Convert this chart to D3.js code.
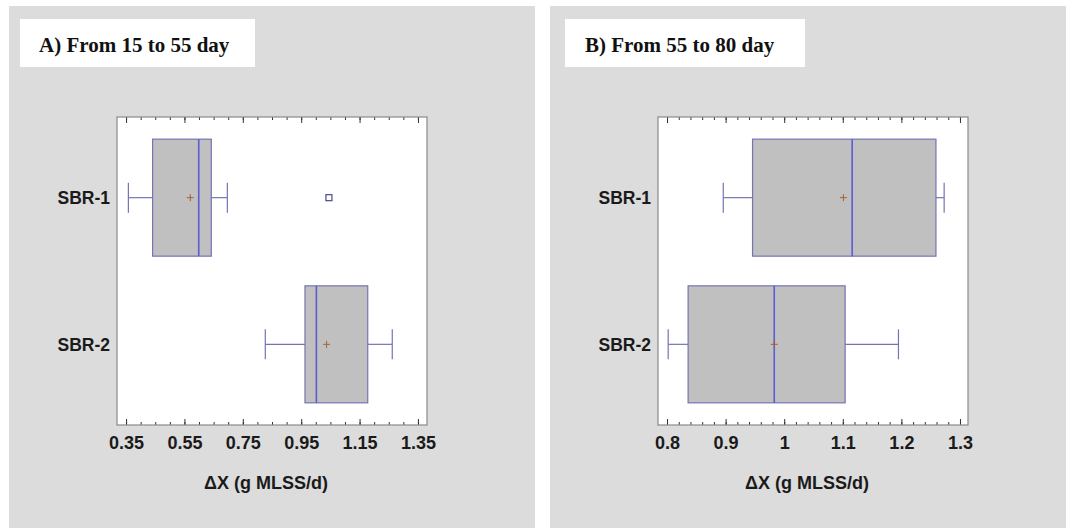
<!DOCTYPE html>
<html>
<head>
<meta charset="utf-8">
<script src="https://cdn.jsdelivr.net/npm/d3@7/dist/d3.min.js"></script>
<style>
  html, body { margin: 0; padding: 0; background: #ffffff; }
  svg { display: block; }
</style>
</head>
<body>
<svg id="chart" width="1066" height="528"></svg>
<script>
// Sample groups
const categories = ["SBR-1", "SBR-2"];

// Panel A: days 15–55
const titleA = "A) From 15 to 55 day";
const whiskerLowA  = [0.358, 0.827];
const q1A          = [0.441, 0.963];
const medianA      = [0.599, 1.002];
const q3A          = [0.642, 1.178];
const whiskerHighA = [0.697, 1.262];
const meanA        = [0.570, 1.037];
const outliersA    = [[1.045], []];
const domainA      = [0.319, 1.381];
const majorTicksA  = [0.35, 0.55, 0.75, 0.95, 1.15, 1.35];
const tickLabelsA  = ["0.35", "0.55", "0.75", "0.95", "1.15", "1.35"];
const minorStepA   = 0.05;

// Panel B: days 55–80
const titleB = "B) From 55 to 80 day";
const whiskerLowB  = [0.896, 0.802];
const q1B          = [0.946, 0.836];
const medianB      = [1.116, 0.983];
const q3B          = [1.259, 1.104];
const whiskerHighB = [1.273, 1.195];
const meanB        = [1.101, 0.983];
const outliersB    = [[], []];
const domainB      = [0.7846, 1.3137];
const majorTicksB  = [0.8, 0.9, 1.0, 1.1, 1.2, 1.3];
const tickLabelsB  = ["0.8", "0.9", "1", "1.1", "1.2", "1.3"];
const minorStepB   = 0.02;

const axisTitle = "\u0394X (g MLSS/d)";

const svg = d3.select("#chart");

const BOX_STROKE = "#7474b4";
const MEDIAN_STROKE = "#5c5cd4";
const MEAN_STROKE = "#a0623c";
const SANS = "'Liberation Sans', Arial, sans-serif";

function drawPanel(opts) {
  const g = svg.append("g").attr("transform", `translate(${opts.left},0)`);

  // panel background
  g.append("rect")
    .attr("x", 0).attr("y", 6)
    .attr("width", opts.width).attr("height", 522)
    .attr("fill", "#dcdcdc");

  // title box
  g.append("rect")
    .attr("x", opts.titleBox[0]).attr("y", 19)
    .attr("width", opts.titleBox[1]).attr("height", 48)
    .attr("fill", "#ffffff");
  g.append("text")
    .attr("x", opts.titleBox[0] + opts.titlePad).attr("y", 52)
    .attr("font-family", "'Liberation Serif', 'Times New Roman', serif")
    .attr("font-weight", "bold")
    .attr("font-size", 21)
    .attr("fill", "#111")
    .text(opts.title);

  const px0 = opts.plotX, px1 = opts.plotX + 310;
  const py0 = 117, py1 = 425;

  const x = d3.scaleLinear().domain(opts.domain).range([px0, px1]);
  const y = d3.scalePoint().domain(categories).range([py0, py1]).padding(0.55);
  const boxH = 117;

  // plot area
  g.append("rect")
    .attr("x", px0).attr("y", py0)
    .attr("width", px1 - px0).attr("height", py1 - py0)
    .attr("fill", "#ffffff");

  // minor ticks
  const minor = d3.range(opts.majorTicks[0], opts.domain[1] + 1e-9, opts.minorStep)
    .filter(v => v >= opts.domain[0]);
  const fmt = i => opts.tickLabels[i];

  const bottomMinor = d3.axisBottom(x).tickValues(minor).tickSizeInner(-3).tickSizeOuter(0).tickFormat("");
  const topMinor = d3.axisTop(x).tickValues(minor).tickSizeInner(-3).tickSizeOuter(0).tickFormat("");
  const bottomMajor = d3.axisBottom(x).tickValues(opts.majorTicks).tickSizeInner(-6).tickSizeOuter(0)
    .tickPadding(11).tickFormat((d, i) => fmt(i));
  const topMajor = d3.axisTop(x).tickValues(opts.majorTicks).tickSizeInner(-6).tickSizeOuter(0).tickFormat("");

  [[bottomMinor, py1], [topMinor, py0], [bottomMajor, py1], [topMajor, py0]].forEach(([ax, yy]) => {
    const a = g.append("g").attr("transform", `translate(0,${yy})`).call(ax);
    a.select(".domain").remove();
    a.selectAll(".tick line").attr("stroke", "#333").attr("stroke-width", 1);
    a.selectAll(".tick text")
      .attr("font-family", SANS)
      .attr("font-weight", "bold")
      .attr("font-size", 18)
      .attr("fill", "#1a1a1a");
  });

  // frame
  g.append("rect")
    .attr("x", px0).attr("y", py0)
    .attr("width", px1 - px0).attr("height", py1 - py0)
    .attr("fill", "none")
    .attr("stroke", "#8a8a8a").attr("stroke-width", 1.2);

  // category labels
  g.selectAll("text.cat").data(categories).join("text")
    .attr("class", "cat")
    .attr("x", px0 - 7).attr("y", d => y(d))
    .attr("dy", "0.36em")
    .attr("text-anchor", "end")
    .attr("font-family", SANS)
    .attr("font-weight", "bold")
    .attr("font-size", 17.5)
    .attr("fill", "#1a1a1a")
    .text(d => d);

  // boxes
  categories.forEach((c, i) => {
    const cy = y(c);
    const b = g.append("g");
    // whiskers
    b.append("line")
      .attr("x1", x(opts.whiskerLow[i])).attr("x2", x(opts.q1[i]))
      .attr("y1", cy).attr("y2", cy)
      .attr("stroke", BOX_STROKE).attr("stroke-width", 1.2);
    b.append("line")
      .attr("x1", x(opts.q3[i])).attr("x2", x(opts.whiskerHigh[i]))
      .attr("y1", cy).attr("y2", cy)
      .attr("stroke", BOX_STROKE).attr("stroke-width", 1.2);
    [opts.whiskerLow[i], opts.whiskerHigh[i]].forEach(v => {
      b.append("line")
        .attr("x1", x(v)).attr("x2", x(v))
        .attr("y1", cy - 15).attr("y2", cy + 15)
        .attr("stroke", BOX_STROKE).attr("stroke-width", 1.2);
    });
    // box
    b.append("rect")
      .attr("x", x(opts.q1[i])).attr("y", cy - boxH / 2)
      .attr("width", x(opts.q3[i]) - x(opts.q1[i])).attr("height", boxH)
      .attr("fill", "#c0c0c0")
      .attr("stroke", BOX_STROKE).attr("stroke-width", 1.2);
    // median
    b.append("line")
      .attr("x1", x(opts.median[i])).attr("x2", x(opts.median[i]))
      .attr("y1", cy - boxH / 2).attr("y2", cy + boxH / 2)
      .attr("stroke", MEDIAN_STROKE).attr("stroke-width", 1.6);
    // mean marker
    const mx = x(opts.mean[i]);
    b.append("path")
      .attr("d", `M${mx - 3.5},${cy}H${mx + 3.5}M${mx},${cy - 3.5}V${cy + 3.5}`)
      .attr("stroke", MEAN_STROKE).attr("stroke-width", 1);
    // outliers
    opts.outliers[i].forEach(v => {
      b.append("rect")
        .attr("x", x(v) - 3).attr("y", cy - 3)
        .attr("width", 6).attr("height", 6)
        .attr("fill", "#ffffff")
        .attr("stroke", "#4a4a8a").attr("stroke-width", 1.2);
    });
  });

  // axis title
  g.append("text")
    .attr("x", (px0 + px1) / 2 - 6).attr("y", 489)
    .attr("text-anchor", "middle")
    .attr("font-family", SANS)
    .attr("font-weight", "bold")
    .attr("font-size", 18)
    .attr("fill", "#1a1a1a")
    .text(axisTitle);
}

drawPanel({
  left: 9, width: 526, plotX: 108,
  titleBox: [11, 235], titlePad: 19, title: titleA,
  domain: domainA, majorTicks: majorTicksA, tickLabels: tickLabelsA, minorStep: minorStepA,
  whiskerLow: whiskerLowA, q1: q1A, median: medianA, q3: q3A,
  whiskerHigh: whiskerHighA, mean: meanA, outliers: outliersA
});

drawPanel({
  left: 550, width: 526, plotX: 108,
  titleBox: [15, 240], titlePad: 20, title: titleB,
  domain: domainB, majorTicks: majorTicksB, tickLabels: tickLabelsB, minorStep: minorStepB,
  whiskerLow: whiskerLowB, q1: q1B, median: medianB, q3: q3B,
  whiskerHigh: whiskerHighB, mean: meanB, outliers: outliersB
});
</script>
</body>
</html>
